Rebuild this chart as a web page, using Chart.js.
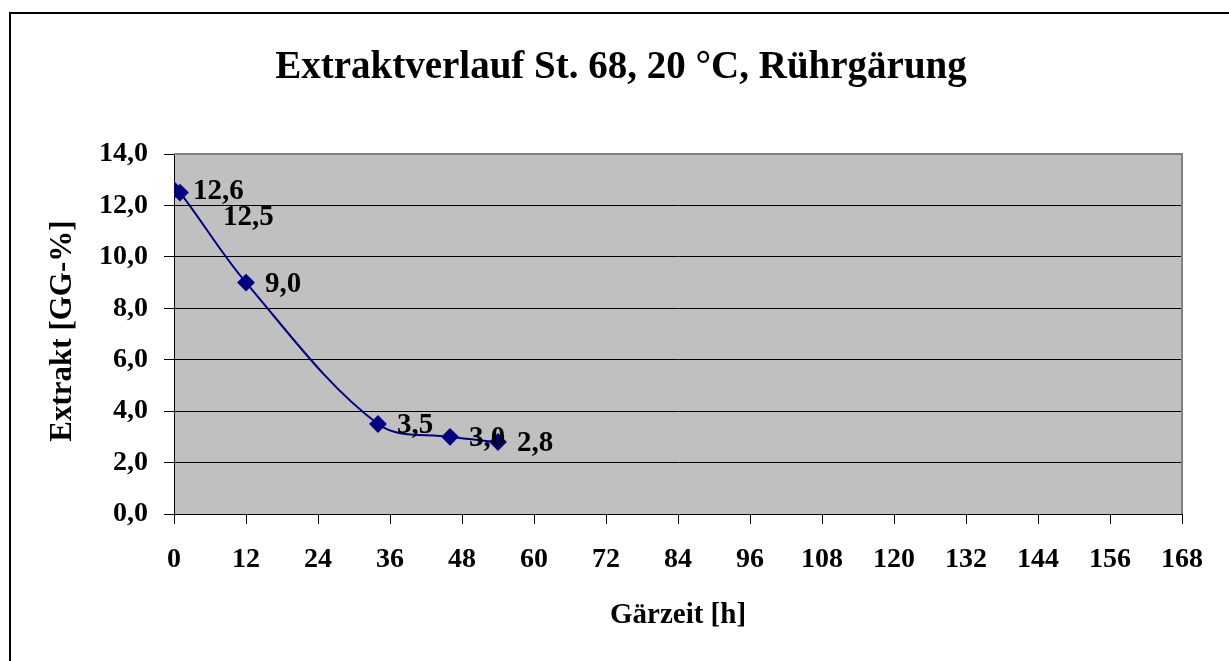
<!DOCTYPE html>
<html lang="de">
<head>
<meta charset="utf-8">
<title>Extraktverlauf St. 68</title>
<script src="https://cdn.jsdelivr.net/npm/chart.js@4/dist/chart.umd.min.js"></script>
<style>
    html, body { margin: 0; padding: 0; background: #fff; }
    #wrap { width: 1229px; height: 661px; position: relative; }
</style>
</head>
<body>
<div id="wrap"><canvas id="extraktChart" width="1229" height="661"></canvas></div>
<script>
// Messwerte
const gaerzeit = [0, 1, 12, 34, 46, 54];
const extrakt = [12.6, 12.5, 9.0, 3.5, 3.0, 2.8];

const xTicks = [0, 12, 24, 36, 48, 60, 72, 84, 96, 108, 120, 132, 144, 156, 168];
const yTicks = [0, 2, 4, 6, 8, 10, 12, 14];

const titel = 'Extraktverlauf St. 68, 20 °C, Rührgärung';
const xTitel = 'Gärzeit [h]';
const yTitel = 'Extrakt [GG-%]';

const schrift = '"Liberation Serif", "Times New Roman", serif';

function komma(v) {
    return v.toFixed(1).replace('.', ',');
}

// Rahmen, Hintergrund der Zeichenfläche und Beschriftungen
const rahmenPlugin = {
    id: 'rahmen',
    beforeDraw(chart) {
        const ctx = chart.ctx;
        const a = chart.chartArea;
        ctx.save();
        ctx.fillStyle = '#fff';
        ctx.fillRect(0, 0, chart.width, chart.height);
        ctx.strokeStyle = '#000';
        ctx.lineWidth = 2;
        ctx.beginPath();
        ctx.moveTo(10, chart.height + 2);
        ctx.lineTo(10, 13);
        ctx.lineTo(chart.width + 2, 13);
        ctx.stroke();
        ctx.fillStyle = '#c0c0c0';
        ctx.fillRect(a.left, a.top, a.right - a.left, a.bottom - a.top);
        ctx.restore();
    },
    afterDraw(chart) {
        const ctx = chart.ctx;
        const a = chart.chartArea;
        ctx.save();
        ctx.strokeStyle = '#808080';
        ctx.lineWidth = 2;
        ctx.beginPath();
        ctx.moveTo(a.left, a.top);
        ctx.lineTo(a.right, a.top);
        ctx.lineTo(a.right, a.bottom);
        ctx.stroke();

        ctx.fillStyle = '#000';
        ctx.textAlign = 'center';
        ctx.textBaseline = 'alphabetic';
        ctx.font = 'bold 39px ' + schrift;
        ctx.fillText(titel, 621, 78);

        ctx.font = 'bold 29px ' + schrift;
        ctx.fillText(xTitel, 678, 623);

        ctx.font = 'bold 31px ' + schrift;
        ctx.translate(71, 331);
        ctx.rotate(-Math.PI / 2);
        ctx.fillText(yTitel, 0, 0);
        ctx.restore();

        // Werte neben den Punkten
        const meta = chart.getDatasetMeta(0);
        ctx.save();
        ctx.font = 'bold 29px ' + schrift;
        ctx.fillStyle = '#000';
        ctx.textAlign = 'left';
        ctx.textBaseline = 'middle';
        meta.data.forEach((pt, i) => {
            let dx = 19, dy = 2;
            if (i === 1) { dx = 43; dy = 25; }
            ctx.fillText(komma(extrakt[i]), pt.x + dx, pt.y + dy);
        });
        ctx.restore();
    }
};

new Chart(document.getElementById('extraktChart'), {
    type: 'line',
    data: {
        datasets: [{
            label: 'Extrakt',
            data: gaerzeit.map((h, i) => ({ x: h, y: extrakt[i] })),
            borderColor: '#000080',
            backgroundColor: '#000080',
            borderWidth: 2,
            tension: 0.35,
            pointStyle: 'rectRot',
            pointRadius: 7.5,
            pointHoverRadius: 7.5,
            fill: false
        }]
    },
    options: {
        responsive: false,
        animation: false,
        layout: {
            padding: { left: 10, right: 47, top: 154, bottom: 0 }
        },
        plugins: {
            legend: { display: false },
            title: { display: false },
            tooltip: { enabled: false }
        },
        scales: {
            x: {
                type: 'linear',
                min: 0,
                max: 168,
                afterFit(scale) { scale.height = 147; },
                afterBuildTicks(scale) { scale.ticks = xTicks.map(v => ({ value: v })); },
                ticks: {
                    color: '#000',
                    padding: 19,
                    font: { family: schrift, size: 28, weight: 'bold' },
                    maxRotation: 0,
                    autoSkip: false
                },
                grid: {
                    drawOnChartArea: false,
                    color: '#000',
                    tickLength: 10,
                    tickColor: '#000'
                },
                border: { color: '#000', width: 1 }
            },
            y: {
                min: 0,
                max: 14,
                afterFit(scale) { scale.width = 164; },
                afterBuildTicks(scale) { scale.ticks = yTicks.map(v => ({ value: v })); },
                ticks: {
                    color: '#000',
                    padding: 16,
                    font: { family: schrift, size: 28, weight: 'bold' },
                    callback: v => komma(v)
                },
                grid: {
                    color: '#000',
                    lineWidth: 1,
                    tickLength: 10,
                    tickColor: '#000'
                },
                border: { color: '#000', width: 1 }
            }
        }
    },
    plugins: [rahmenPlugin]
});
</script>
</body>
</html>
